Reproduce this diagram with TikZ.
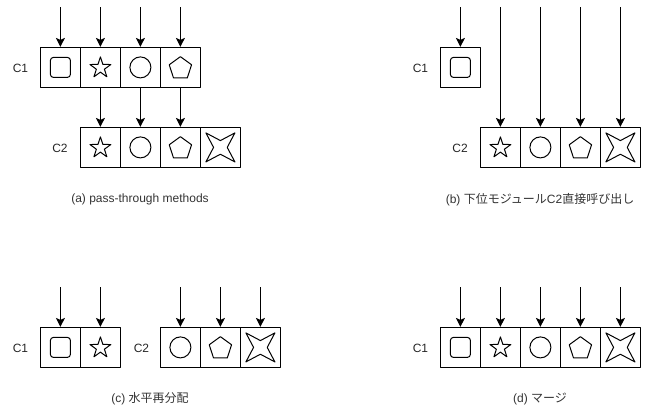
\documentclass[tikz,border=0pt]{standalone}
\usepackage{fontspec}
\setmainfont{Liberation Sans}
\newfontfamily\jpfont{Noto Sans CJK JP}
\usetikzlibrary{arrows.meta,shapes.geometric}
\tikzset{
  cell/.style={draw, minimum size=40pt, inner sep=0pt},
  sqr/.style={draw, rounded corners=3pt, minimum size=20pt, inner sep=0pt},
  str/.style={draw, star, star points=5, star point ratio=2.6, minimum size=22pt, inner sep=0pt, yshift=-0.5pt},
  crc/.style={draw, circle, minimum size=21pt, inner sep=0pt},
  pnt/.style={draw, regular polygon, regular polygon sides=5, minimum size=23.5pt, inner sep=0pt, yshift=-1pt},
  spk/.style={draw, star, star points=4, star point ratio=3, minimum size=41pt, inner sep=0pt, rotate=45},
  call/.style={-{Stealth[length=9pt,width=9pt,inset=2pt]}},
  lbl/.style={font=\fontsize{12}{14}\selectfont, text=black!85},
  pie/.style={font=\fontsize{12}{14}\selectfont, text=black!80}
}
\begin{document}
\begin{tikzpicture}[x=1pt, y=-1pt, line width=1pt, line join=round]
  \useasboundingbox (0,0) rectangle (661,408);
  % las celdas con sus figuras
  \foreach \n/\x/\y/\s in {
    a1/60.4/67.4/sqr, a2/100.4/67.4/str, a3/140.4/67.4/crc, a4/180.4/67.4/pnt,
    e2/100.4/147.4/str, e3/140.4/147.4/crc, e4/180.4/147.4/pnt, e5/220.4/147.4/spk,
    b1/460.4/67.4/sqr,
    f2/500.4/147.4/str, f3/540.4/147.4/crc, f4/580.4/147.4/pnt, f5/620.4/147.4/spk,
    c1/60.4/347.4/sqr, c2/100.4/347.4/str,
    g3/180.4/347.4/crc, g4/220.4/347.4/pnt, g5/260.4/347.4/spk,
    d1/460.4/347.4/sqr, d2/500.4/347.4/str, d3/540.4/347.4/crc, d4/580.4/347.4/pnt, d5/620.4/347.4/spk} {
    \node[cell] (\n) at (\x,\y) {};
    \node[\s] (\n s) at (\n) {};
  }
  % las llamadas desde arriba
  \foreach \n/\y in {a1/7, a2/7, a3/7, a4/7, b1/7, f2/7, f3/7, f4/7, f5/7,
    c1/287, c2/287, g3/287, g4/287, g5/287, d1/287, d2/287, d3/287, d4/287, d5/287} {
    \coordinate (\n top) at (\n |- 0,\y);
    \draw[call] (\n top) -- (\n.north);
  }
  % de C1 a C2
  \foreach \p/\q in {a2/e2, a3/e3, a4/e4} {
    \draw[call] (\p.south) -- (\q.north);
  }
  % los nombres
  \node[lbl] (c1a) at (20.5,68.5) {C1};
  \node[lbl] (c2a) at (60,148) {C2};
  \node[lbl] (c1b) at (420.5,68.5) {C1};
  \node[lbl] (c2b) at (460,148) {C2};
  \node[lbl] (c1c) at (20.5,348.5) {C1};
  \node[lbl] (c2c) at (141.5,348.5) {C2};
  \node[lbl] (c1d) at (420.5,348.5) {C1};
  % los pies
  \node[pie] (piea) at (140,199.5) {(a) pass-through methods};
  \node[pie] (pieb) at (540,199.5) {(b) {\jpfont 下位モジュール}C2{\jpfont 直接呼び出し}};
  \node[pie] (piec) at (150,399) {(c) {\jpfont 水平再分配}};
  \node[pie] (pied) at (540,399) {(d) {\jpfont マージ}};
\end{tikzpicture}
\end{document}
